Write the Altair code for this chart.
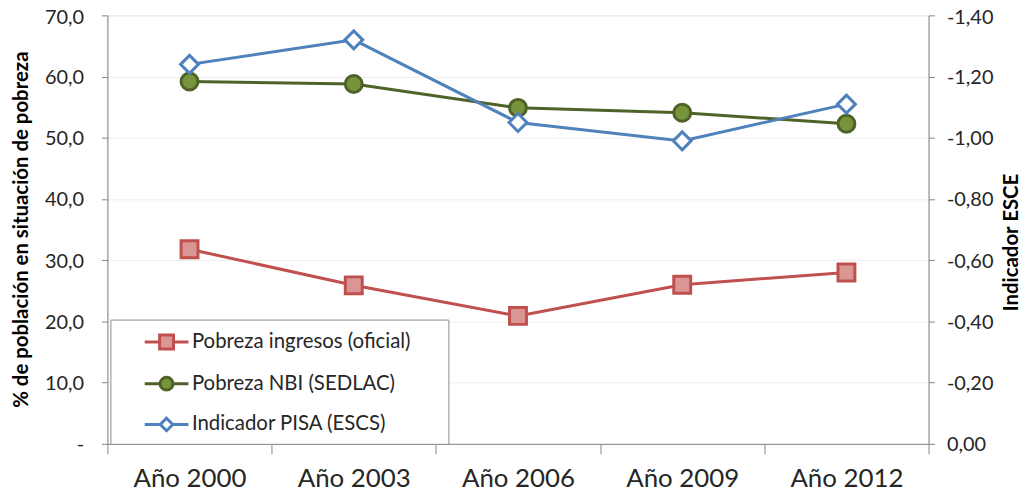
import altair as alt
import pandas as pd

years = ["Año 2000", "Año 2003", "Año 2006", "Año 2009", "Año 2012"]
pobreza_ingresos = [31.8, 25.9, 20.9, 26.0, 28.0]
pobreza_nbi = [59.2, 58.8, 54.9, 54.1, 52.3]
pisa_escs = [-1.24, -1.32, -1.05, -0.99, -1.11]

series = ["Pobreza ingresos (oficial)", "Pobreza NBI (SEDLAC)", "Indicador PISA (ESCS)"]
line_colors = ["#C0504D", "#4F6228", "#4F81BD"]
fill_colors = ["#DA9694", "#77933C", "#FFFFFF"]
legend_shapes = [
    "M-1.57,0H-0.5M0.5,0H1.57M-0.5,-0.5H0.5V0.5H-0.5Z",
    "M-1.57,0H-0.46M0.46,0H1.57M-0.46,0A0.46,0.46 0 1,0 0.46,0A0.46,0.46 0 1,0 -0.46,0Z",
    "M-1.57,0H-0.45M0.45,0H1.57M0,-0.45L0.45,0L0,0.45L-0.45,0Z",
]

df = pd.DataFrame({
    "year": years,
    "ingresos": pobreza_ingresos,
    "nbi": pobreza_nbi,
    "pisa": pisa_escs,
})
leg_df = pd.DataFrame({"serie": series})

FONT = "Lato"
TXT = "#262626"
AX = "#868686"

x_enc = alt.X(
    "year:N",
    sort=years,
    bandPosition=0.5,
    scale=alt.Scale(type="band", paddingInner=0, paddingOuter=0),
    axis=alt.Axis(
        title=None, labelAngle=0, labelFont=FONT, labelFontSize=26, labelColor=TXT,
        labelPadding=12, tickBand="extent", tickSize=10, tickColor=AX, domainColor=AX,
        tickWidth=1, domainWidth=1, grid=False,
    ),
)

left_axis = alt.Axis(
    title="% de población en situación de pobreza",
    titleFont=FONT, titleFontSize=20.5, titleFontWeight="bold", titleColor="#000000",
    titleAngle=-90, titleX=-86, titleY=215, titleAlign="center", titleBaseline="middle",
    values=[0, 10, 20, 30, 40, 50, 60, 70],
    labelExpr="datum.value == 0 ? '-' : replace(format(datum.value, '.1f'), '.', ',')",
    labelFont=FONT, labelFontSize=20, labelColor=TXT, labelPadding=18,
    labelOffset={"condition": {"test": "datum.value > 69", "value": 2.5}, "value": 1},
    tickSize=6, tickColor=AX, domainColor=AX, grid=True, gridColor="#EEEEEE",
)
right_axis = alt.Axis(
    orient="right",
    title="Indicador ESCE",
    titleFont=FONT, titleFontSize=20.5, titleFontWeight="bold", titleColor="#000000",
    titleAngle=-90, titleX=83, titleY=228, titleAlign="center", titleBaseline="middle",
    values=[0, -0.2, -0.4, -0.6, -0.8, -1.0, -1.2, -1.4],
    labelExpr="replace(replace(format(datum.value, '.2f'), '.', ','), '\u2212', '-')",
    labelFont=FONT, labelFontSize=20, labelColor=TXT, labelPadding=12,
    labelOffset={"condition": {"test": "datum.value < -1.39", "value": 2.5}, "value": 1},
    tickSize=6, tickColor=AX, domainColor=AX, grid=False,
)

yl = alt.Scale(domain=[0, 70], nice=False)
yr = alt.Scale(domain=[0, -1.4], nice=False)

base = alt.Chart(df)

red_line = base.mark_line(color=line_colors[0], strokeWidth=3).encode(
    x=x_enc, y=alt.Y("ingresos:Q", scale=yl, axis=left_axis))
red_pts = base.mark_point(shape="square", size=289, filled=True, fill=fill_colors[0],
                          stroke=line_colors[0], strokeWidth=3, opacity=1).encode(
    x=x_enc, y=alt.Y("ingresos:Q", scale=yl))
green_line = base.mark_line(color=line_colors[1], strokeWidth=3).encode(
    x=x_enc, y=alt.Y("nbi:Q", scale=yl))
green_pts = base.mark_point(shape="circle", size=289, filled=True, fill=fill_colors[1],
                            stroke=line_colors[1], strokeWidth=3, opacity=1).encode(
    x=x_enc, y=alt.Y("nbi:Q", scale=yl))

leg_props = dict(
    title=None, orient="none", legendX=3, legendY=306,
    fillColor="#FFFFFF", strokeColor="#8C8C8C", padding=7, rowPadding=13,
    symbolSize=784, symbolStrokeWidth=3, symbolOffset=34, labelOffset=10,
    labelFont=FONT, labelFontSize=20.5, labelColor=TXT, labelLimit=600,
    symbolOpacity=1,
    labelExpr="datum.label + '\u2800\u2800'",
)
legend_layer = alt.Chart(leg_df).mark_point(filled=True, opacity=1).encode(
    stroke=alt.Stroke("serie:N", sort=series,
                      scale=alt.Scale(domain=series, range=line_colors),
                      legend=alt.Legend(**leg_props)),
    fill=alt.Fill("serie:N", sort=series,
                  scale=alt.Scale(domain=series, range=fill_colors),
                  legend=alt.Legend(**leg_props)),
    shape=alt.Shape("serie:N", sort=series,
                    scale=alt.Scale(domain=series, range=legend_shapes),
                    legend=alt.Legend(**leg_props)),
).transform_filter("datum.serie == 'ninguna'")

blue_line = base.mark_line(color=line_colors[2], strokeWidth=3).encode(
    x=x_enc, y=alt.Y("pisa:Q", scale=yr, axis=right_axis))
blue_pts = base.mark_point(shape="diamond", size=324, filled=True, fill=fill_colors[2],
                           stroke=line_colors[2], strokeWidth=3, opacity=1).encode(
    x=x_enc, y=alt.Y("pisa:Q", scale=yr))

left = alt.layer(red_line, red_pts, green_line, green_pts, legend_layer)
right = alt.layer(blue_line, blue_pts)

chart = alt.layer(left, right).resolve_scale(y="independent").properties(
    width=826, height=431,
    autosize=alt.AutoSizeParams(type="none"),
    padding={"left": 100, "top": 6, "right": 94, "bottom": 48},
).configure_view(stroke=None).configure(background="#FFFFFF")

chart.save("out.html", embed_options={"renderer": "svg", "actions": False})
